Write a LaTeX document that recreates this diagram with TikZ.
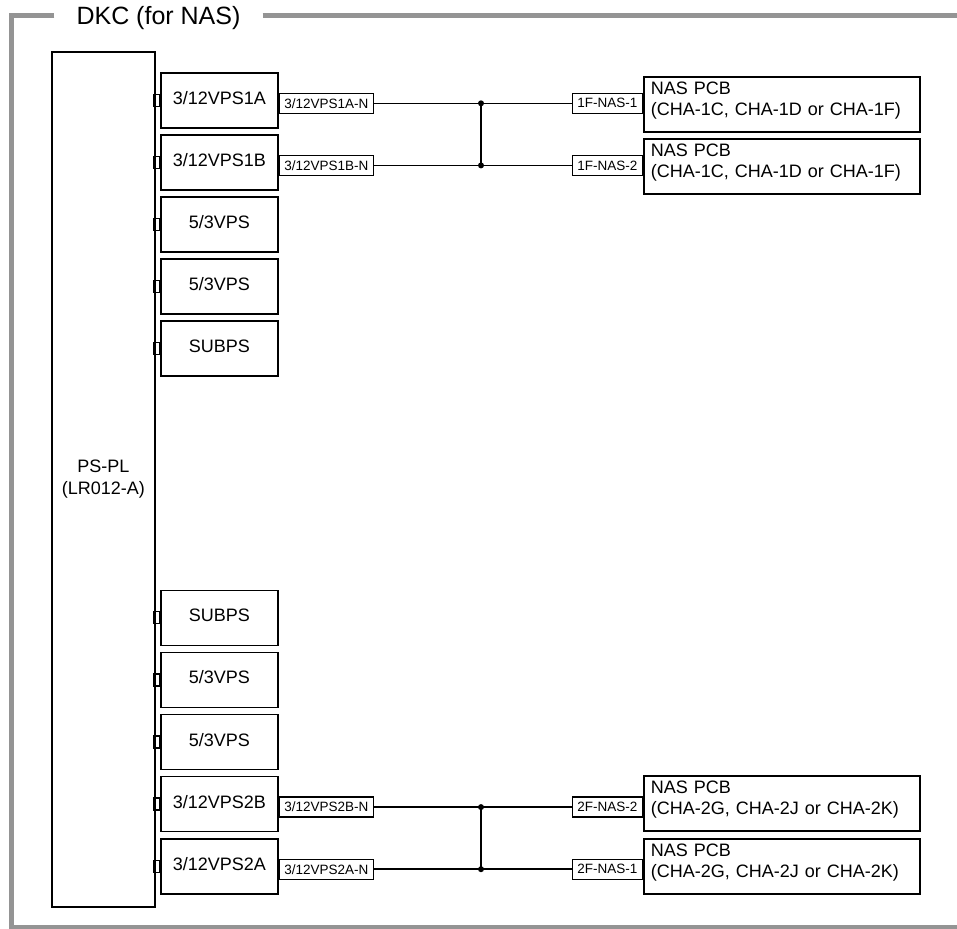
\documentclass[tikz,border=0pt]{standalone}
\usepackage{fontspec}
\setmainfont{Liberation Sans}
\usetikzlibrary{positioning}

\begin{document}
\begin{tikzpicture}[x=1pt, y=-1pt]
%1 unit = 1 pixel of the drawing, y grows downwards
\tikzstyle{frame}=[draw=black!42, line width=5pt]
\tikzstyle{ps}=[draw, line width=1.6pt, minimum width=117pt, minimum height=55pt, inner sep=0pt, text height=13pt, text depth=5pt, font=\fontsize{18}{21}\selectfont, node distance=5.5pt]
\tikzstyle{plug}=[draw, line width=1.3pt, minimum width=6pt, minimum height=12pt, inner sep=0pt]
\tikzstyle{tag}=[draw, line width=1.3pt, minimum height=20pt, inner xsep=5pt, inner ysep=0pt, font=\fontsize{13.5}{15}\selectfont]
\tikzstyle{nas}=[draw, line width=1.6pt, minimum width=276pt, text width=262pt, align=left, inner xsep=7pt, inner ysep=5pt, text height=13pt, text depth=32pt, font=\fontsize{18}{21}\selectfont]
\tikzstyle{wire}=[line width=1.5pt]
\tikzstyle{dot}=[circle, fill, inner sep=0pt, minimum size=6pt]
\useasboundingbox (0,0) rectangle (957,928);

\node[font=\fontsize{25}{30}\selectfont, inner xsep=22pt, anchor=base](title) at (158.5,25) {DKC (for NAS)};
\coordinate (tl) at (11,15.5);
\coordinate (bl) at (11,927);
\coordinate (tr) at (957,15.5);
\coordinate (br) at (957,927);
\draw[frame] (title.west |- tl) -- (tl) -- (bl) -- (br);
\draw[frame] (title.east |- tr) -- (tr);

\node[draw, line width=1.6pt, minimum width=103pt, minimum height=855pt, align=center, font=\fontsize{18}{22}\selectfont, anchor=north west](pspl) at (51,51) {PS-PL\\(LR012-A)};

\node[ps, anchor=north west](ps1a) at (160,72) {3/12VPS1A};
\node[ps](ps1b) [below = of ps1a] {3/12VPS1B};
\node[ps](ps53a) [below = of ps1b] {5/3VPS};
\node[ps](ps53b) [below = of ps53a] {5/3VPS};
\node[ps](subt) [below = of ps53b] {SUBPS};
\node[ps, anchor=north west](subb) at (160,589.5) {SUBPS};
\node[ps](ps53c) [below = of subb] {5/3VPS};
\node[ps](ps53d) [below = of ps53c] {5/3VPS};
\node[ps](ps2b) [below = of ps53d] {3/12VPS2B};
\node[ps](ps2a) [below = of ps2b] {3/12VPS2A};

\foreach \p in {ps1a,ps1b,ps53a,ps53b,subt,subb,ps53c,ps53d,ps2b,ps2a}
  \node[plug, anchor=east](plug-\p) at (\p.west) {};

\node[tag, anchor=west](t1a) at ([yshift=-3pt]ps1a.east) {3/12VPS1A-N};
\node[tag, anchor=west](t1b) at ([yshift=-3pt]ps1b.east) {3/12VPS1B-N};
\node[tag, anchor=west](t2b) at ([yshift=-3pt]ps2b.east) {3/12VPS2B-N};
\node[tag, anchor=west](t2a) at ([yshift=-3pt]ps2a.east) {3/12VPS2A-N};

\node[nas, anchor=north west](nas1) at (643,76) {NAS PCB\\(CHA-1C, CHA-1D or CHA-1F)};
\node[nas, anchor=north west](nas2) at (643,138) {NAS PCB\\(CHA-1C, CHA-1D or CHA-1F)};
\node[nas, anchor=north west](nas3) at (643,775) {NAS PCB\\(CHA-2G, CHA-2J or CHA-2K)};
\node[nas, anchor=north west](nas4) at (643,838) {NAS PCB\\(CHA-2G, CHA-2J or CHA-2K)};

\node[tag, anchor=east](n1) at (nas1.west |- t1a) {1F-NAS-1};
\node[tag, anchor=east](n2) at (nas2.west |- t1b) {1F-NAS-2};
\node[tag, anchor=east](n3) at (nas3.west |- t2b) {2F-NAS-2};
\node[tag, anchor=east](n4) at (nas4.west |- t2a) {2F-NAS-1};

\coordinate (bus) at (481,0);
\draw[wire] (t1a) -- (n1);
\draw[wire] (t1b) -- (n2);
\draw[wire] (t2b) -- (n3);
\draw[wire] (t2a) -- (n4);
\draw[wire] (t1a.east -| bus) -- (t1b.east -| bus);
\draw[wire] (t2b.east -| bus) -- (t2a.east -| bus);
\foreach \t in {t1a,t1b,t2b,t2a}
  \node[dot] at (\t.east -| bus) {};
\end{tikzpicture}
\end{document}
